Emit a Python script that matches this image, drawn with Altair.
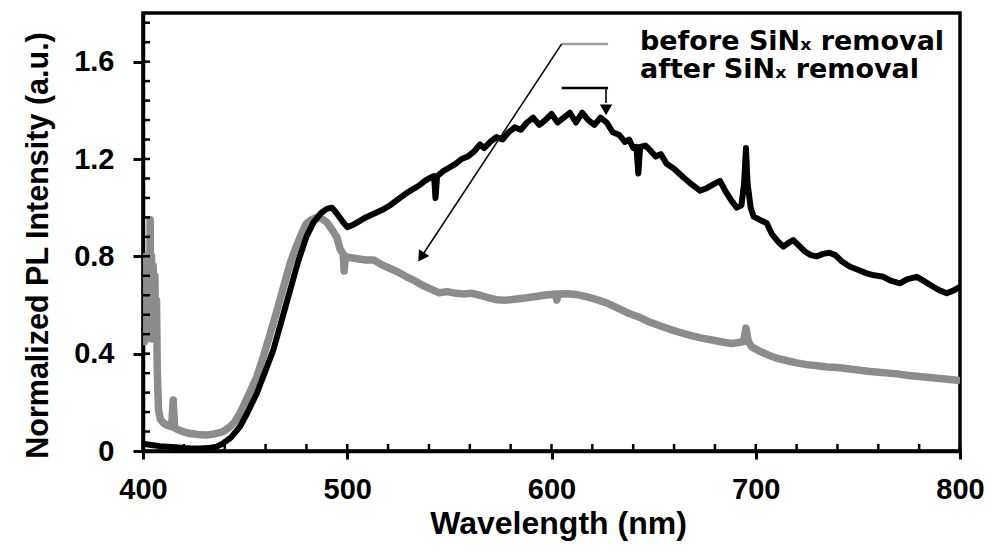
import altair as alt
import pandas as pd

# ---------------- data ----------------
before_nm = [400, 400.4, 400.8, 401.2, 401.6, 402, 402.4, 402.8, 403.2, 403.5, 403.8, 404.2, 404.6, 405,
             405.4, 405.8, 406.2, 406.6, 407, 407.6, 408.5, 410, 412, 414, 414.8, 415.5, 417, 420, 423, 427,
             431, 435, 439, 442, 445, 447.5, 450, 453, 455.7, 459, 461.5, 463.8, 466, 469, 472, 475, 478,
             480, 482.5, 485, 487.5, 490, 492.5, 494.8, 496.5, 498, 498.5, 499, 501, 505, 509, 513, 517,
             521, 525, 529, 533, 537, 541, 545, 549, 553, 557, 561, 565, 569, 573, 578, 583, 588, 593, 598,
             602, 602.6, 603.2, 608, 613, 618, 623, 628, 633, 638, 643, 648, 653, 658, 663, 668, 673, 678,
             683, 688, 691, 694, 695.2, 696.4, 698, 702, 706, 710, 715, 720, 725, 730, 735, 740, 745, 750,
             755, 760, 765, 770, 775, 780, 785, 790, 795, 800]
before_val = [0.46, 0.78, 0.45, 0.8, 0.46, 0.79, 0.47, 0.8, 0.5, 0.95, 0.48, 0.8, 0.46, 0.76,
              0.47, 0.72, 0.46, 0.62, 0.33, 0.17, 0.13, 0.115, 0.105, 0.1, 0.21, 0.095, 0.088, 0.078, 0.072, 0.068,
              0.066, 0.07, 0.079, 0.095, 0.12, 0.155, 0.2, 0.255, 0.305, 0.39, 0.46, 0.525, 0.59, 0.68, 0.77, 0.84, 0.9,
              0.935, 0.95, 0.96, 0.955, 0.94, 0.91, 0.88, 0.83, 0.81, 0.74, 0.8, 0.795, 0.79, 0.785, 0.785, 0.765,
              0.75, 0.735, 0.716, 0.7, 0.68, 0.665, 0.65, 0.655, 0.648, 0.645, 0.648, 0.64, 0.63, 0.622, 0.62, 0.625, 0.63, 0.636, 0.642,
              0.645, 0.62, 0.645, 0.646, 0.642, 0.632, 0.62, 0.605, 0.585, 0.565, 0.55, 0.53, 0.515, 0.5, 0.487, 0.475, 0.465, 0.457,
              0.449, 0.442, 0.445, 0.45, 0.505, 0.45, 0.428, 0.41, 0.395, 0.382, 0.372, 0.362, 0.355, 0.35, 0.345, 0.343, 0.338, 0.333,
              0.328, 0.324, 0.32, 0.316, 0.31, 0.306, 0.302, 0.298, 0.294, 0.29]

after_nm = [400, 404, 408, 412, 416, 420, 424, 428, 432, 436, 439, 443, 447.5, 451, 455.7, 460, 463.8, 468,
            472, 476, 480, 483.5, 487, 490, 492.5, 495, 498, 500, 503, 506, 509, 513, 517, 521, 525, 529,
            532, 535, 538, 541, 542.5, 543.2, 544, 547, 550, 553, 556, 559, 562, 565, 567, 570, 573, 576,
            579, 582, 585, 588, 591, 594, 597, 600, 603, 606, 609, 612, 615, 618, 621, 624, 627, 630, 633,
            636, 638, 640, 641.6, 642.5, 643.4, 646, 648.2, 651, 653.5, 656.4, 660, 664.5, 668, 672.7,
            676, 679, 682.5, 685, 688, 690.7, 693, 694.3, 695.2, 696, 697.5, 699, 702, 705.4, 708, 711,
            713.5, 716, 718.4, 721, 724, 727, 729.8, 733, 736, 739, 742, 746.2, 750, 754.3, 758, 762.5,
            766, 770.6, 774, 778.8, 782, 786.9, 790, 793.5, 797, 800]
after_val = [0.03, 0.025, 0.02, 0.018, 0.015, 0.012, 0.01, 0.01, 0.012, 0.018, 0.03, 0.055, 0.1, 0.155, 0.237, 0.33, 0.415, 0.54,
             0.66, 0.78, 0.88, 0.94, 0.977, 0.995, 1.0, 0.975, 0.94, 0.92, 0.93, 0.945, 0.96, 0.975, 0.99, 1.01, 1.035, 1.06,
             1.075, 1.09, 1.11, 1.125, 1.13, 1.04, 1.13, 1.15, 1.165, 1.18, 1.2, 1.21, 1.23, 1.26, 1.245, 1.27, 1.29, 1.28,
             1.31, 1.33, 1.32, 1.35, 1.37, 1.34, 1.36, 1.385, 1.35, 1.37, 1.39, 1.35, 1.39, 1.36, 1.34, 1.37, 1.35, 1.31, 1.3,
             1.27, 1.28, 1.245, 1.25, 1.14, 1.25, 1.255, 1.237, 1.21, 1.22, 1.18, 1.16, 1.125, 1.1, 1.07,
             1.08, 1.095, 1.11, 1.07, 1.03, 1.0, 1.01, 1.1, 1.245, 1.1, 1.0, 0.963, 0.95, 0.936, 0.89, 0.86,
             0.84, 0.855, 0.867, 0.845, 0.82, 0.805, 0.8, 0.81, 0.815, 0.805, 0.78, 0.757, 0.745, 0.73, 0.722, 0.716,
             0.7, 0.689, 0.705, 0.716, 0.7, 0.675, 0.66, 0.648, 0.66, 0.675]

x_major = [400, 500, 600, 700, 800]
y_major = [0, 0.4, 0.8, 1.2, 1.6]
x_minor = [400, 420, 440, 460, 480, 500, 520, 540, 560, 580, 600, 620, 640, 660, 680, 700,
           720, 740, 760, 780, 800]
y_minor = [0, 0.08, 0.16, 0.24, 0.32, 0.4, 0.48, 0.56, 0.64, 0.72, 0.8, 0.88, 0.96, 1.04,
           1.12, 1.2, 1.28, 1.36, 1.44, 1.52, 1.6, 1.68, 1.76]

# legend / annotation anchors (data units)
legend_line_nm = [605.0, 627.7]
legend_line_val = [1.673, 1.492]
arrow1_nm = [605.0, 536.2]
arrow1_val = [1.673, 0.797]
arrow2_nm = [626.7, 626.7]
arrow2_val = [1.492, 1.43]
head_nm = [536.2, 626.7]
head_val = [0.797, 1.402]

legend_text = ["before SiN\u2093 removal", "after SiN\u2093 removal"]
legend_nm = [643.3, 643.3]
legend_val = [1.648, 1.532]

# ---------------- chart ----------------
W, H = 817, 438
xs = alt.Scale(domain=[400, 800], nice=False, zero=False)
ys = alt.Scale(domain=[0, 1.8], nice=False, zero=False)

x_axis = alt.Axis(values=x_major, format="d", title="Wavelength (nm)",
                  titleFont="Liberation Sans", titleFontSize=32, titleFontWeight="bold",
                  titleColor="black", titleBaseline="alphabetic", titleX=415, titleY=82,
                  labelFont="Liberation Sans", labelFontSize=29, labelFontWeight="bold",
                  labelColor="black", labelPadding=16, labelFlush=False,
                  tickSize=8, tickWidth=3, tickColor="black",
                  domainColor="black", domainWidth=3.5, grid=False)
y_axis = alt.Axis(values=y_major,
                  labelExpr="datum.value == 0 ? '0' : format(datum.value, '.1f')",
                  title="Normalized PL Intensity (a.u.)",
                  titleFont="Liberation Sans", titleFontSize=30.5, titleFontWeight="bold",
                  titleColor="black", titleBaseline="alphabetic", titleAngle=270,
                  titleX=-96, titleY=232,
                  labelFont="Liberation Sans", labelFontSize=29, labelFontWeight="bold",
                  labelColor="black", labelPadding=19,
                  tickSize=10, tickWidth=3, tickColor="black",
                  domainColor="black", domainWidth=3.5, grid=False)


def X(field):
    return alt.X(field, type="quantitative", scale=xs, axis=x_axis)


def Y(field):
    return alt.Y(field, type="quantitative", scale=ys, axis=y_axis)


df_before = pd.DataFrame({"nm": before_nm, "val": before_val})
df_after = pd.DataFrame({"nm": after_nm, "val": after_val})

before_line = alt.Chart(df_before).mark_line(
    color="#8c8c8c", strokeWidth=7.5, clip=True, strokeJoin="round"
).encode(x=X("nm"), y=Y("val"))
after_line = alt.Chart(df_after).mark_line(
    color="black", strokeWidth=6, clip=True, strokeJoin="round"
).encode(x=X("nm"), y=Y("val"))

yticks = alt.Chart(pd.DataFrame({"val": y_minor})).mark_rule(color="black", strokeWidth=2.5).encode(
    y=Y("val"), x=alt.value(0), x2=alt.value(7))
xticks = alt.Chart(pd.DataFrame({"nm": x_minor})).mark_rule(color="black", strokeWidth=2.5).encode(
    x=X("nm"), y=alt.value(H), y2=alt.value(H - 7))

df_leg = pd.DataFrame({"nm": [legend_line_nm[0]] * 2, "nm2": [legend_line_nm[1]] * 2,
                       "val": legend_line_val, "s": ["before", "after"]})
leg_lines = alt.Chart(df_leg).mark_rule(strokeWidth=2.5).encode(
    x=X("nm"), x2="nm2:Q", y=Y("val"),
    color=alt.Color("s:N", scale=alt.Scale(domain=["before", "after"], range=["#9a9a9a", "black"]),
                    legend=None))

df_arrows = pd.DataFrame({"nm": [arrow1_nm[0], arrow2_nm[0]], "nm2": [arrow1_nm[1], arrow2_nm[1]],
                          "val": [arrow1_val[0], arrow2_val[0]], "val2": [arrow1_val[1], arrow2_val[1]]})
arrows = alt.Chart(df_arrows).mark_rule(color="black", strokeWidth=1.6).encode(
    x=X("nm"), x2="nm2:Q", y=Y("val"), y2="val2:Q")

head1 = alt.Chart(pd.DataFrame({"nm": [head_nm[0]], "val": [head_val[0]]})).mark_point(
    shape="triangle-up", filled=True, size=150, color="black", opacity=1, angle=213
).encode(x=X("nm"), y=Y("val"))
head2 = alt.Chart(pd.DataFrame({"nm": [head_nm[1]], "val": [head_val[1]]})).mark_point(
    shape="triangle-down", filled=True, size=150, color="black", opacity=1
).encode(x=X("nm"), y=Y("val"))

texts = alt.Chart(pd.DataFrame({"t": legend_text, "nm": legend_nm, "val": legend_val})).mark_text(
    font="DejaVu Sans", fontWeight="bold", fontSize=27, align="left",
    baseline="alphabetic", color="black"
).encode(x=X("nm"), y=Y("val"), text="t:N")

chart = alt.layer(
    before_line, after_line, yticks, xticks, leg_lines, arrows, head1, head2, texts
).properties(
    width=W, height=H,
    autosize=alt.AutoSizeParams(type="none"),
    padding={"left": 143, "top": 13, "right": 34, "bottom": 100},
    background="white",
).configure_view(stroke="black", strokeWidth=3.5)

chart.save("out.html", embed_options={"renderer": "svg", "actions": False})
